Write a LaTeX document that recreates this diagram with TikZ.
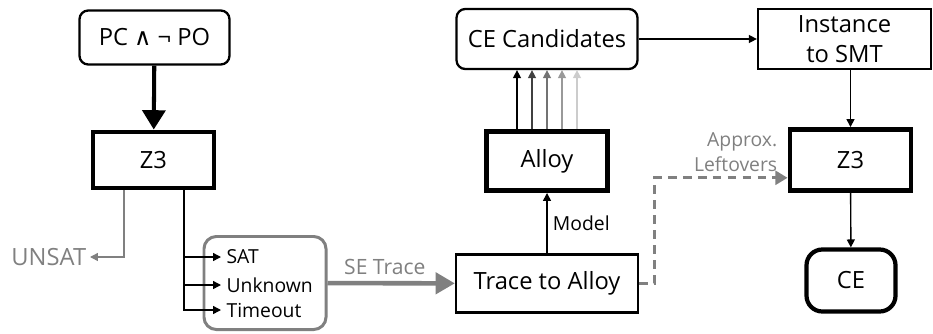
\documentclass[tikz,border=0pt]{standalone}
\usepackage{fontspec}
\setmainfont{Open Sans}
\newfontfamily\symfnt{DejaVu Sans}
\usetikzlibrary{arrows.meta, positioning, calc}

\begin{document}
\begin{tikzpicture}[font=\fontsize{13.5}{17}\selectfont, >={Triangle[width=4.5pt,length=4.5pt]},
  box/.style={draw, line width=1.3pt, inner sep=0pt, align=center},
  solver/.style={box, line width=2.8pt},
  rbox/.style={box, rounded corners=5pt},
  lbl/.style={font=\fontsize{11}{14}\selectfont, inner sep=1pt},
  thin/.style={->, line width=0.8pt},
  fat/.style={line width=2.3pt, -{Triangle[width=13pt,length=11pt]}}]
  \useasboundingbox (0,0) rectangle (18.66,6.66);
  % left: query and first solver call
  \node[rbox, minimum width=3.0cm, minimum height=1.08cm] (pcpo) at (3.09,5.91) {PC {\symfnt ∧} ¬ PO};
  \node[solver, minimum width=2.42cm, minimum height=1.12cm] (z3a) at (3.07,3.46) {Z3};
  \node[draw=gray, line width=1.7pt, rounded corners=7pt, minimum width=2.44cm, minimum height=1.86cm] (res) at (5.3,1.0) {};
  \node[lbl, anchor=west, inner sep=3pt] (sat) at (4.42,1.52) {SAT};
  \node[lbl, anchor=west, inner sep=3pt] (unk) at (4.42,0.96) {Unknown};
  \node[lbl, anchor=west, inner sep=3pt] (tmo) at (4.42,0.46) {Timeout};
  \node[lbl, gray, anchor=east, inner sep=2pt, font=\fontsize{13.5}{16}\selectfont] (unsat) at (1.8,1.52) {UNSAT};
  \draw[fat] (pcpo) -- (z3a);
  \coordinate (utap) at ($(z3a.south)+(-0.59,0)$);
  \coordinate (stap) at ($(z3a.south)+(0.61,0)$);
  \draw[thin, gray] (utap) |- (unsat);
  \draw[thin] (stap) |- (sat);
  \draw[thin] (stap) |- (unk);
  \draw[thin] (stap) |- (tmo);

  % middle: trace translation and Alloy
  \node[box, minimum width=3.64cm, minimum height=1.16cm] (trace) at (10.94,0.99) {Trace to Alloy};
  \node[solver, minimum width=2.42cm, minimum height=1.18cm] (alloy) at (10.94,3.44) {Alloy};
  \node[rbox, minimum width=3.62cm, minimum height=1.2cm] (cands) at (10.94,5.88) {CE Candidates};
  \draw[-{Triangle[width=12pt,length=11pt]}, gray, line width=2.6pt] (res) -- node[pos=0.45, above, font=\fontsize{12}{14}\selectfont] {SE Trace} (trace);
  \draw[thin] (trace) -- node[lbl, right, inner sep=3pt] {Model} (alloy);
  \foreach \dx/\shade in {-0.6/100, -0.3/75, 0/55, 0.3/40, 0.6/20}
    \draw[thin, black!\shade] ($(alloy.north)+(\dx,0)$) -- ($(cands.south)+(\dx,0)$);

  % right: back to SMT
  \node[box, minimum width=3.46cm, minimum height=1.2cm] (inst) at (16.89,5.88) {Instance\\to SMT};
  \node[solver, minimum width=2.42cm, minimum height=1.22cm] (z3b) at (17.01,3.46) {Z3};
  \node[rbox, line width=2.4pt, rounded corners=9pt, minimum width=1.78cm, minimum height=1.24cm] (ce) at (17.02,1.05) {CE};
  \draw[thin] (cands) -- (inst);
  \draw[thin] (inst.south -| z3b) -- (z3b);
  \draw[thin] (z3b) -- (ce);
  \coordinate (dend) at ($(z3b.south west)!0.23!(z3b.north west)$);
  \draw[gray, line width=1.6pt, dash pattern=on 5pt off 3.5pt, -{Triangle[width=8pt,length=7pt]}] (trace.east) -- ++(0.3,0) |- (dend);
  \node[lbl, gray, anchor=south east, align=right, inner sep=0pt] at ($(dend)+(-0.2,0.12)$) {Approx.\\Leftovers};
\end{tikzpicture}
\end{document}
